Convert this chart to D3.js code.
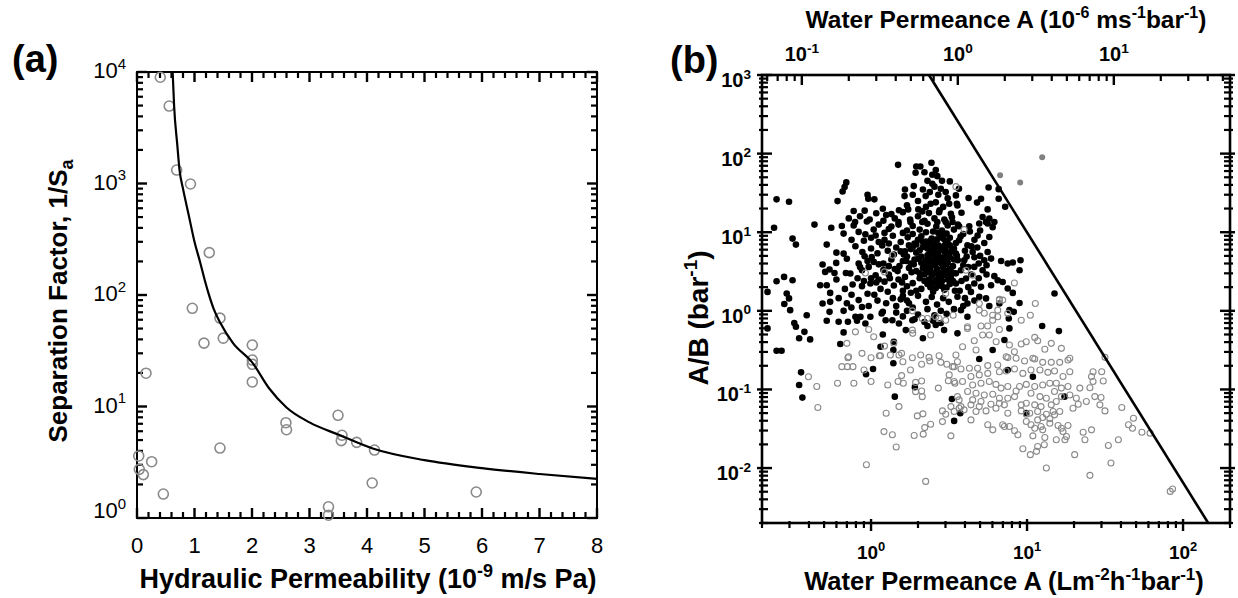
<!DOCTYPE html>
<html>
<head>
<meta charset="utf-8">
<script src="https://cdn.jsdelivr.net/npm/d3@7/dist/d3.min.js"></script>
<style>
  body { margin: 0; background: #fff; }
</style>
</head>
<body>
<script>
// ---------- panel (a): hydraulic permeability vs separation factor
var permA = [0.405, 0.56, 0.69, 0.93, 1.257, 0.962, 1.443, 1.165, 1.50, 2.005, 2.005, 2.005, 2.005,
  0.157, 2.59, 2.60, 1.443, 3.496, 3.565, 3.553, 3.82, 4.13, 4.09, 3.33, 3.33, 0.03, 0.04, 0.11, 0.255, 0.458, 5.9];
var sepA = [8970, 4950, 1320, 990, 240, 76, 62, 37, 41, 35.6, 26.1, 23.9, 16.6,
  19.9, 7.16, 6.19, 4.24, 8.34, 5.52, 4.94, 4.77, 4.07, 2.06, 1.26, 1.06, 3.6, 2.73, 2.45, 3.2, 1.64, 1.71];

// fitted trade-off curve
var fitPerm = [0.62, 0.645, 0.70, 0.74, 0.80, 0.90, 1.0, 1.1, 1.18, 1.24, 1.33, 1.45, 1.67, 2.0, 2.3, 2.6, 3.0, 3.5, 4.1, 5.0, 6.0, 7.0, 8.0];
var fitSep = [10000, 5000, 2240, 1320, 900, 520, 300, 195, 135, 105, 76, 56, 37, 25, 14.5, 9.8, 7.2, 5.6, 4.2, 3.3, 2.8, 2.48, 2.24];

var aXTicks = [0, 1, 2, 3, 4, 5, 6, 7, 8];
var aYTicks = [1, 10, 100, 1000, 10000];
var aYLabels = ["0", "1", "2", "3", "4"];

// ---------- panel (b): water permeance A vs A/B
var bXTicks = [1, 10, 100];
var bXLabels = ["0", "1", "2"];
var bTopTicks = [0.1, 1, 10];
var bTopLabels = ["-1", "0", "1"];
var bYTicks = [0.01, 0.1, 1, 10, 100, 1000];
var bYLabels = ["-2", "-1", "0", "1", "2", "3"];

// upper bound line
var boundA = [2.35, 145];
var boundR = [1000, 0.002];

// filled black points [A, A/B]
var blackPts = [
  [0.248,26.2],[0.298,24.4],[0.61,24.9],[0.694,43],[0.677,37.5],[0.657,33],[1.49,72],[1.95,68.6],[2.07,68.6],[1.93,57],
  [2.44,76.4],[2.47,53.8],[2.66,51.7],[2.47,41.4],[1.88,38.6],[1.65,35],[1.64,28.8],[0.95,30],[0.96,26.7],[1.05,26.2],
  [2.38,32.4],[2.8,35.7],[3.2,44.3],[3.01,32.4],[3.5,29.4],[2.24,28.8],[0.774,18.6],[0.91,18.8],[1.08,17.4],[1.19,19.9],
  [1.35,17],[1.51,19],[1.73,19.5],[2.01,19.5],[2.13,18.4],[2.73,18],[3.25,17.2],[0.79,13.5],[0.94,13.7],[3.17,23],
  [2.41,23],[3.58,21.9],
  [3.66,35.7],[5.67,37.1],[6.58,35.3],[6.58,26.7],[4.22,27.2],[5.07,26.7],[4.78,23.8],[7.24,21.1],[3.55,23],[3.8,17.7],
  [5.59,19.5],[5.19,15.6],[5.73,14.9],[6.17,13.5],[5.46,13.5],
  [0.239,11.4],[0.434,12.5],[0.556,11.4],[0.314,8.3],[0.33,6.96],[0.52,6.96],[0.667,5.35],[0.794,6.62],[0.489,3.88],[0.598,4.07],
  [0.542,3.35],[0.508,3.13],[0.583,3.03],[0.69,3.03],[0.737,2.98],[0.248,2.38],[0.277,2.7],[0.314,2.45],[0.217,1.74],[0.288,1.66],
  [0.278,1.22],[0.298,1.44],[0.303,1.02],[0.387,0.88],[0.322,0.70],[0.33,0.627],[0.374,0.54],[0.346,0.447],[0.407,0.433],[0.217,0.598],
  [0.248,0.31],[0.267,0.31],[0.472,2.12],[0.52,2.12],[0.547,1.69],[0.489,1.24],[0.547,1.3],[0.542,0.97],[0.52,0.747],[0.62,0.725],
  [0.667,1.0],[0.748,1.1],[0.762,2.16],[0.875,2.06],[0.99,2.23],[1.08,2.29],[0.833,1.37],[0.875,1.12],[0.794,0.84],[0.966,1.15],
  [0.711,0.725],[0.855,0.84],[0.99,0.84],[0.92,0.69],[0.635,0.378],[1.19,0.5],[1.15,0.349],[1.4,0.404],[1.19,0.97],[1.24,0.76],
  [1.37,0.76],[1.51,0.69],[1.67,0.569],[1.84,0.76],[2.15,0.447],[2.3,0.64],[2.6,0.66],[2.94,0.569],[0.667,9.6],[0.774,12.2],
  [0.833,10.1],[0.92,9.4],[1.04,10.8],[1.07,9.1],[0.91,4.95],[1.01,4.84],[1.04,4.19],[0.966,3.62],[0.833,4.0],[1.07,2.84],
  [0.875,3.28],[0.667,0.532],[0.813,0.747],[1.39,0.317],[1.17,0.927],
  [3.67,11.9],[4.26,11.9],[4.94,12.9],[5.59,12.9],[6.02,11.6],[4.82,9.1],[5.73,8.7],[3.67,7.9],[4.15,6.82],[5.32,7.3],
  [4.48,5.6],[5.59,5.6],[5.88,4.62],[5.32,4.4],[6.82,4.31],[7.52,4.0],[8.1,4.12],[9.08,4.4],[8.95,3.28],[3.96,4.4],
  [3.77,3.28],[4.59,3.62],[5.19,3.28],[6.17,2.76],[6.98,2.33],[7.52,1.92],[8.1,1.69],[4.06,2.58],[4.59,2.23],[5.07,2.02],
  [4.37,1.74],[4.94,1.51],[5.46,1.44],[5.88,2.12],[5.73,1.15],[6.65,1.24],[7.71,1.02],[8.22,0.97],[8.95,1.26],[7.64,0.8],
  [7.71,0.598],[15.0,1.66],[12.5,0.64],[16.0,0.552],[3.58,0.517],[7.16,0.425],[6.02,0.317],[4.15,0.84],[3.77,1.02],[3.58,1.51],
  [4.15,1.24],[3.5,5.35],[3.5,2.23],[6.49,2.45],
  [0.356,0.165],[0.346,0.114],[0.363,0.0787],[1.03,0.182],[0.929,0.156],[1.39,0.215],[1.91,0.107],[1.42,0.081],[3.3,0.0757],[3.41,0.0398],
  [4.94,0.244],[3.73,0.0499],[17.4,0.081],[7.52,0.177],[10.9,0.145],[9.88,0.05],
  // dense core of the cloud
  [1.25,16.5],[1.42,15],[1.6,18],[1.78,14.5],[2.0,16],[2.2,14],[2.35,17.5],[2.55,15],[2.75,19],[2.95,14.5],
  [3.3,15.5],[1.5,13.5],[1.79,13.5],[2.13,13.5],[2.66,13.5],[3.01,13.5],[3.33,13.5],
  [1.3,11],[1.5,12.5],[1.7,10.5],[1.85,12],[2.05,10.8],[2.3,12.8],[2.5,10.2],[2.62,11.8],[2.85,10.5],[3.1,12.2],[3.4,10.8],[3.6,12.5],
  [1.22,8],[1.38,9],[1.55,7.5],[1.72,8.6],[1.9,7.2],[2.1,8.9],[2.25,7.6],[2.45,8.3],[2.6,7.1],[2.8,9.2],[3.0,7.8],[3.2,8.5],[3.5,7.3],[3.75,8.8],
  [1.28,5.8],[1.45,6.4],[1.62,5.2],[1.8,6.1],[1.95,5.5],[2.15,6.5],[2.3,5.1],[2.5,6.0],[2.68,5.4],[2.85,6.3],[3.05,5.2],[3.3,5.9],[3.55,5.0],
  [1.2,4.0],[1.35,4.5],[1.52,3.7],[1.68,4.3],[1.88,3.9],[2.0,4.6],[2.2,3.6],[2.4,4.2],[2.55,3.8],[2.72,4.5],[2.9,3.6],[3.1,4.1],[3.35,3.7],[3.6,4.4],[3.9,3.8],
  [1.3,2.9],[1.48,3.2],[1.65,2.7],[1.82,3.1],[2.05,2.6],[2.25,3.3],[2.45,2.8],[2.6,3.1],[2.8,2.6],[3.0,3.2],[3.25,2.7],[3.5,3.0],
  [1.4,2.1],[1.6,1.8],[1.85,2.25],[2.1,1.9],[2.3,2.2],[2.5,1.75],[2.7,2.1],[2.95,1.85],[3.2,2.2],[3.45,1.8],
  [1.55,1.4],[1.75,1.25],[2.0,1.55],[2.25,1.3],[2.45,1.5],[2.65,1.2],[2.9,1.45],[3.15,1.3],
  [1.7,1.0],[2.0,0.9],[2.3,1.05],[2.55,0.88],[2.8,1.0],[3.05,0.92],[3.4,1.05],
  [1.95,7.0],[2.2,6.9],[2.4,7.0],[2.7,6.8],[2.95,6.7],[3.2,6.8],[2.05,5.9],[2.38,5.7],[2.6,5.8],[2.95,5.7],
  [3.2,5.5],[2.1,4.9],[2.35,4.7],[2.62,4.9],[2.85,4.8],[3.2,4.8],[2.1,4.1],[2.3,4.0],[2.62,4.1],[2.82,4.0],
  [3.0,4.4],[2.15,3.5],[2.4,3.5],[2.65,3.4],[2.92,3.3],[3.2,3.4],[2.2,2.9],[2.5,3.0],[2.7,2.8],[2.92,2.85],
  [3.15,2.95],[2.35,2.5],[2.6,2.45],[2.85,2.4],[3.1,2.5],[2.4,2.0],[2.6,1.95],[2.85,2.05],[3.05,1.98],[1.75,6.8],
  [1.65,5.7],[1.9,4.5],[1.75,3.5],[1.6,4.3],[1.95,3.2],[3.4,6.2],[3.4,4.5],[3.35,2.4],[1.85,9.5],[2.25,10],
  [2.7,9.8],[3.05,9.6],[1.6,9.8],
  [0.82,2.6],[0.9,2.4],[1.0,2.6],[1.12,2.5],[1.22,2.35],[1.32,2.6],[0.85,3.6],[0.95,4.3],[1.12,3.9],[1.2,3.3],
  [1.3,3.7],[1.42,3.4],[0.88,5.6],[1.0,6.2],[1.1,5.4],[1.18,6.8],[1.3,7.2],[1.4,5.2],[0.9,7.8],[1.0,8.5],
  [1.12,7.5],[1.22,9.8],[1.35,11.8],[1.12,12.5],[0.98,14.5],[1.2,14],[1.05,1.6],[1.15,1.9],[1.28,1.75],[1.38,1.45],
  [1.1,1.35],[1.25,1.25],[1.45,1.15],[0.95,1.65],[1.5,2.5],[1.58,2.3],[1.7,2.05],[1.6,1.55],[1.8,1.7],[1.95,1.8],
  [1.7,1.35],[1.85,1.1],[1.45,0.95],[1.6,0.85],[1.9,0.78],[2.2,0.72],[2.5,0.75],[2.8,0.7],
  [3.9,9.5],[4.3,10.2],[4.6,8.0],[5.0,10.5],[4.0,5.8],[4.4,6.6],[4.8,6.4],[5.0,5.0],[4.1,4.9],[4.6,4.8],
  [4.2,3.6],[4.9,4.0],[5.5,3.8],[4.4,2.9],[4.9,2.6],[5.5,2.9],[3.8,2.4],[4.2,2.0],[3.7,1.8],[4.0,1.45],
  [4.6,1.35],[3.9,1.15],
  [1.7,22],[2.0,25],[2.25,21],[2.6,24],[2.9,21],[3.1,27],[2.7,30],[1.85,30],[2.15,35],[2.55,38],
  [2.3,45],[2.85,45],[2.6,62],[2.2,58],
  [0.6,5.5],[0.7,4.6],[0.75,8.0],[0.65,12],[0.72,15],[0.85,16],[0.6,2.5],[0.68,1.9],[0.62,1.45],[0.75,1.6],[0.7,1.25],
  [2.2,2.4],[2.5,2.3],[2.75,2.25],[2.05,3.0],[2.35,3.1],[2.85,3.05],[3.3,3.1],[2.3,3.8],[2.5,4.4],[2.78,4.3],
  [3.0,3.9],[2.25,4.4],[2.45,5.3],[2.75,5.9],[3.0,6.0],[2.3,6.2],[2.55,6.6],[3.1,7.3],[2.4,7.8],[2.65,8.1],
  [2.9,8.3],[2.0,8.0],[2.15,7.5],[1.85,6.5],[1.7,4.9],[1.8,4.0],[1.55,5.7]
];

// open grey circles [A, A/B]
var openPts = [
  [1.37,5.09],[0.92,3.03],[1.22,3.13],[1.84,1.0],[2.13,0.8],[2.73,0.8],[3.01,0.76],[3.36,0.88],[0.7,0.386],[0.966,0.58],
  [1.04,0.468],[1.22,0.356],[1.4,0.386],[1.57,0.288],[2.35,0.256],[3.5,0.274],[1.13,0.268],[0.875,0.288],[0.718,0.261],[1.84,0.569],
  [2.41,0.492],[2.6,0.84],[3.5,38],[3.01,1.66],[4.94,1.24],[6.65,1.4],[2.3,0.8],[4.15,0.627],[0.794,0.54],[1.85,0.517],
  [3.95,10.8],[4.06,3.28],[4.48,2.84],[8.3,2.26],[6.65,1.37],[6.98,1.37],[11.3,1.24],[10.5,0.88],[9.18,0.76],[4.94,1.02],
  [5.32,0.93],[6.02,0.88],[6.49,1.02],[6.49,0.84],[6.02,0.76],[7.52,0.93],[5.07,0.64],[5.59,0.64],[4.15,0.598],[6.65,0.58],
  [5.19,0.492],[5.73,0.492],[4.59,0.416],[6.34,0.404],[7.71,0.367],[9.18,0.378],[9.88,0.404],[11.2,0.459],[11.7,0.416],[14.3,0.386],
  [16.6,0.333],[13,0.324],[3.86,0.349],[4.71,0.317],[8.3,0.302],[31.6,0.256],[18.8,0.249],[10.9,0.249],[7.35,0.261],
  [0.397,0.145],[0.449,0.109],[0.456,0.0588],[0.61,0.12],[0.776,0.12],[0.65,0.195],[0.705,0.195],[0.766,0.195],[0.711,0.253],[0.901,0.177],
  [1.0,0.126],[1.0,0.253],[1.15,0.268],[1.28,0.114],[1.25,0.0499],[1.21,0.0291],[1.37,0.0265],[1.45,0.0185],[0.934,0.011],[1.51,0.0605],
  [1.49,0.126],[1.61,0.12],[1.57,0.15],[1.6,0.225],[1.79,0.177],[1.84,0.253],[2.11,0.209],[2.38,0.23],[1.93,0.123],[2.11,0.128],
  [1.93,0.0938],[2.11,0.0957],[2.13,0.081],[2.7,0.104],[1.98,0.0461],[2.15,0.0489],[2.41,0.0361],[2.21,0.0327],[2.16,0.027],[1.89,0.0259],
  [2.8,0.221],[3.06,0.209],[3.33,0.195],[3.17,0.153],[3.13,0.129],[3.45,0.12],[2.87,0.0533],[3.01,0.0484],[2.87,0.039],[3.25,0.0257],
  [3.25,0.0605],[2.24,0.00676],[2.73,0.268],[1.33,0.274],[1.51,0.274],[2.08,0.274],
  [7.53,0.254],[8.51,0.249],[9.64,0.23],[11.2,0.244],[12.6,0.221],[14.3,0.221],[16.2,0.221],[18.3,0.237],[6.49,0.205],[5.6,0.201],
  [4.82,0.186],[4.27,0.186],[3.77,0.182],[3.41,0.195],[3.58,0.225],
  [4.37,0.146],[4.94,0.153],[5.6,0.16],[6.65,0.168],[7.35,0.172],[8.32,0.182],[9.4,0.16],[10.6,0.177],[12.1,0.177],[13.6,0.165],
  [15.0,0.172],[17.0,0.146],[18.8,0.168],[26.5,0.168],[30.1,0.168],[30.8,0.128],[25.9,0.146],[26.5,0.126],
  [3.86,0.126],[4.48,0.114],[5.07,0.12],[5.73,0.126],[6.32,0.116],[6.82,0.104],[7.53,0.109],[8.95,0.109],[9.89,0.116],[11.2,0.109],
  [12.6,0.114],[14.0,0.12],[15.4,0.12],[16.6,0.104],[18.3,0.109],[21.8,0.104],[25.3,0.105],[3.41,0.126],
  [4.16,0.094],[4.71,0.0893],[5.32,0.0851],[6.03,0.0869],[6.65,0.0773],[7.53,0.0773],[8.32,0.0811],[10.6,0.0893],[12.1,0.0811],[13.3,0.0773],
  [15.0,0.094],[16.6,0.0811],[18.8,0.0851],[20.7,0.0773],[27.2,0.0811],[29.8,0.0789],[3.58,0.0811],[3.67,0.0736],[4.48,0.0736],[5.07,0.0702],[8.51,0.0957],
  [3.77,0.0605],[4.37,0.0637],[4.94,0.0605],[5.87,0.0649],[6.65,0.0668],[7.16,0.0637],[9.18,0.0637],[9.89,0.0668],[11.2,0.0637],[12.3,0.0605],
  [14.3,0.0637],[15.4,0.0702],[19.7,0.0577],[21.3,0.0649],[24.0,0.0702],[29.3,0.0637],[40.5,0.0589],[3.67,0.0577],
  [3.41,0.0524],[3.95,0.055],[4.71,0.0524],[5.46,0.0533],[6.32,0.0577],[7.53,0.0499],[9.18,0.0533],[10.4,0.0499],[11.7,0.0524],[13.3,0.0484],
  [14.7,0.0524],[15.0,0.0475],[16.2,0.0524],[31.6,0.0533],[48.1,0.0431],[4.37,0.041],[11.7,0.041],[12.6,0.044],[14.0,0.0423],[9.89,0.0484],
  [5.6,0.0355],[6.03,0.0306],[6.98,0.0355],[7.71,0.0338],[8.32,0.0298],[8.73,0.0265],[9.89,0.0391],[10.6,0.0355],[12.3,0.0338],[14.0,0.0372],
  [15.8,0.0348],[16.6,0.0321],[18.3,0.0348],[17.0,0.0292],[17.9,0.0252],[22.9,0.0286],[25.9,0.0306],[44.7,0.0355],[47.4,0.0321],[54.5,0.0286],
  [61.5,0.0278],[11.2,0.0321],[12.6,0.0306],[7.16,0.0338],
  [10.9,0.0257],[13.0,0.0245],[15.4,0.0229],[17.5,0.0229],[23.5,0.0229],[33.2,0.0194],[38.5,0.0229],[9.4,0.0176],[10.5,0.0148],[11.5,0.0163],
  [12.9,0.0198],[11.7,0.0188],[20.2,0.0148],[34.5,0.0116],[13.3,0.01],[25.3,0.00807],[82.8,0.00505],[85.7,0.00542]
];

// grey filled points above the bound
var greyPts = [[12.5, 90], [6.72, 53.2], [9.04, 43]];

// 1 L m^-2 h^-1 bar^-1 = 0.2778 x 10^-6 m s^-1 bar^-1
var lmhToMs = 1 / 3.6;

// ---------- drawing (everything goes straight into the svg)
var FONT = "Liberation Sans, Arial, Helvetica, sans-serif";
var svg = d3.select("body").append("svg").attr("width", 1238).attr("height", 598);

function minorLog(lo, hi) {
  var out = [];
  for (var e = -4; e <= 4; e++) {
    for (var m = 2; m <= 9; m++) {
      var v = m * Math.pow(10, e);
      if (v >= lo * 0.999 && v <= hi * 1.001) out.push(v);
    }
  }
  return out;
}

function addText(x, y, size, weight, anchor) {
  return svg.append("text").attr("x", x).attr("y", y).attr("font-family", FONT)
    .attr("font-size", size).attr("font-weight", weight).attr("text-anchor", anchor).attr("fill", "#000");
}

function powLabel(x, y, exp, size, anchor, weight) {
  var t = addText(x, y, size, weight, anchor);
  t.append("tspan").text("10");
  t.append("tspan").attr("dy", -size * 0.42).attr("font-size", size * 0.68).text(exp);
}

// each tick mark is a small filled rectangle [x, y, w, h]
var tickCount = 0;
function drawBoxes(boxes) {
  var cls = "tk" + (tickCount++);
  svg.selectAll("rect." + cls).data(boxes).enter().append("rect").attr("class", cls)
    .attr("x", function(b) { return b[0]; }).attr("y", function(b) { return b[1]; })
    .attr("width", function(b) { return b[2]; }).attr("height", function(b) { return b[3]; })
    .attr("fill", "#000");
}
// len > 0 points down / right
function hTicks(scale, vals, y, len, w) {
  drawBoxes(vals.map(function(v) { return [scale(v) - w / 2, Math.min(y, y + len), w, Math.abs(len)]; }));
}
function vTicks(scale, vals, x, len, w) {
  drawBoxes(vals.map(function(v) { return [Math.min(x, x + len), scale(v) - w / 2, Math.abs(len), w]; }));
}

// ===== panel (a)
var ax = d3.scaleLinear().domain([0, 8]).range([137, 597]);
var ay = d3.scaleLog().domain([1, 10000]).range([518, 72]);

var aMinorX = d3.range(0, 8.001, 0.2).filter(function(v) { return Math.abs(v - Math.round(v)) > 0.01; });
var aMinorY = minorLog(1, 10000);

svg.append("rect").attr("x", 137).attr("y", 72).attr("width", 460).attr("height", 446)
  .attr("fill", "none").attr("stroke", "#000").attr("stroke-width", 2);

hTicks(ax, aXTicks, 518, -10, 2.4);
hTicks(ax, aMinorX, 518, -6, 2.2);
hTicks(ax, aXTicks, 72, 10, 2.4);
hTicks(ax, aMinorX, 72, 6, 2.2);
vTicks(ay, aYTicks, 137, 10, 2.4);
vTicks(ay, aMinorY, 137, 6, 2.2);
vTicks(ay, aYTicks, 597, -10, 2.4);
vTicks(ay, aMinorY, 597, -6, 2.2);

aXTicks.forEach(function(v) { addText(ax(v), 553, 22, "normal", "middle").text(v); });
aYTicks.forEach(function(v, i) { powLabel(126, ay(v) + (v === 1 ? 0 : 6), aYLabels[i], 22, "end", "normal"); });

svg.selectAll("circle.pa").data(permA).enter().append("circle").attr("class", "pa")
  .attr("cx", function(d) { return ax(d); })
  .attr("cy", function(d, i) { return ay(sepA[i]); })
  .attr("r", 5).attr("fill", "none").attr("stroke", "#8a8a8a").attr("stroke-width", 1.6);

var fitLine = d3.line().x(function(d) { return ax(d[0]); }).y(function(d) { return ay(d[1]); })
  .curve(d3.curveMonotoneX);
svg.append("path").datum(fitPerm.map(function(p, i) { return [p, fitSep[i]]; }))
  .attr("d", fitLine).attr("fill", "none").attr("stroke", "#000").attr("stroke-width", 2.2);

addText(12, 72, 38, "bold", "start").text("(a)");
var xtA = addText(368, 588, 27, "bold", "middle");
xtA.append("tspan").text("Hydraulic Permeability (10");
xtA.append("tspan").attr("dy", -11).attr("font-size", 18).text("-9");
xtA.append("tspan").attr("dy", 11).text(" m/s Pa)");
var ytA = addText(0, 0, 26, "bold", "middle").attr("transform", "translate(67,301) rotate(-90)");
ytA.append("tspan").text("Separation Factor, 1/S");
ytA.append("tspan").attr("dy", 6).attr("font-size", 18).text("a");

// ===== panel (b)
var bx = d3.scaleLog().domain([0.2, 200]).range([762, 1230]);
var btx = d3.scaleLog().domain([0.2 * lmhToMs, 200 * lmhToMs]).range([762, 1230]);
var by = d3.scaleLog().domain([0.002, 1000]).range([523, 75]);

svg.append("rect").attr("x", 762).attr("y", 75).attr("width", 468).attr("height", 448)
  .attr("fill", "none").attr("stroke", "#000").attr("stroke-width", 2.6);

var bMinorY = minorLog(0.002, 1000);
hTicks(bx, bXTicks, 519, 12, 2.4);
hTicks(bx, minorLog(0.2, 200), 521, 7, 2.2);
hTicks(btx, bTopTicks, 75, 10, 2.4);
hTicks(btx, minorLog(0.2 * lmhToMs, 200 * lmhToMs), 75, 6, 2.2);
vTicks(by, bYTicks, 757, 15, 2.4);
vTicks(by, bMinorY, 759, 9, 2.2);
vTicks(by, bYTicks, 1235, -15, 2.4);
vTicks(by, bMinorY, 1233, -9, 2.2);

bYTicks.forEach(function(v, i) { powLabel(751, by(v) + 12, bYLabels[i], 20, "end", "bold"); });
bXTicks.forEach(function(v, i) { powLabel(bx(v), 559, bXLabels[i], 19, "middle", "bold"); });
bTopTicks.forEach(function(v, i) { powLabel(btx(v), 61, bTopLabels[i], 20, "middle", "bold"); });

svg.selectAll("circle.bk").data(blackPts).enter().append("circle").attr("class", "bk")
  .attr("cx", function(d) { return bx(d[0]); }).attr("cy", function(d) { return by(d[1]); })
  .attr("r", 3.3).attr("fill", "#000");
svg.selectAll("circle.op").data(openPts).enter().append("circle").attr("class", "op")
  .attr("cx", function(d) { return bx(d[0]); }).attr("cy", function(d) { return by(d[1]); })
  .attr("r", 3).attr("fill", "none").attr("stroke", "#8a8a8a").attr("stroke-width", 1.1);
svg.selectAll("circle.gy").data(greyPts).enter().append("circle").attr("class", "gy")
  .attr("cx", function(d) { return bx(d[0]); }).attr("cy", function(d) { return by(d[1]); })
  .attr("r", 3).attr("fill", "#808080");

svg.append("path").datum(boundA.map(function(a, i) { return [a, boundR[i]]; }))
  .attr("d", d3.line().x(function(d) { return bx(d[0]); }).y(function(d) { return by(d[1]); }))
  .attr("fill", "none").attr("stroke", "#000").attr("stroke-width", 2.6);

addText(670, 73, 38, "bold", "start").text("(b)");

var xtB = addText(1004, 590, 25.5, "bold", "middle");
xtB.append("tspan").text("Water Permeance A (Lm");
xtB.append("tspan").attr("dy", -10).attr("font-size", 17).text("-2");
xtB.append("tspan").attr("dy", 10).text("h");
xtB.append("tspan").attr("dy", -10).attr("font-size", 17).text("-1");
xtB.append("tspan").attr("dy", 10).text("bar");
xtB.append("tspan").attr("dy", -10).attr("font-size", 17).text("-1");
xtB.append("tspan").attr("dy", 10).text(")");

var ttB = addText(1006, 28, 24.5, "bold", "middle");
ttB.append("tspan").text("Water Permeance A (10");
ttB.append("tspan").attr("dy", -10).attr("font-size", 16).text("-6");
ttB.append("tspan").attr("dy", 10).text(" ms");
ttB.append("tspan").attr("dy", -10).attr("font-size", 16).text("-1");
ttB.append("tspan").attr("dy", 10).text("bar");
ttB.append("tspan").attr("dy", -10).attr("font-size", 16).text("-1");
ttB.append("tspan").attr("dy", 10).text(")");

var ytB = addText(0, 0, 28, "bold", "middle").attr("transform", "translate(708,318) rotate(-90)");
ytB.append("tspan").text("A/B (bar");
ytB.append("tspan").attr("dy", -11).attr("font-size", 19).text("-1");
ytB.append("tspan").attr("dy", 11).text(")");
</script>
</body>
</html>
